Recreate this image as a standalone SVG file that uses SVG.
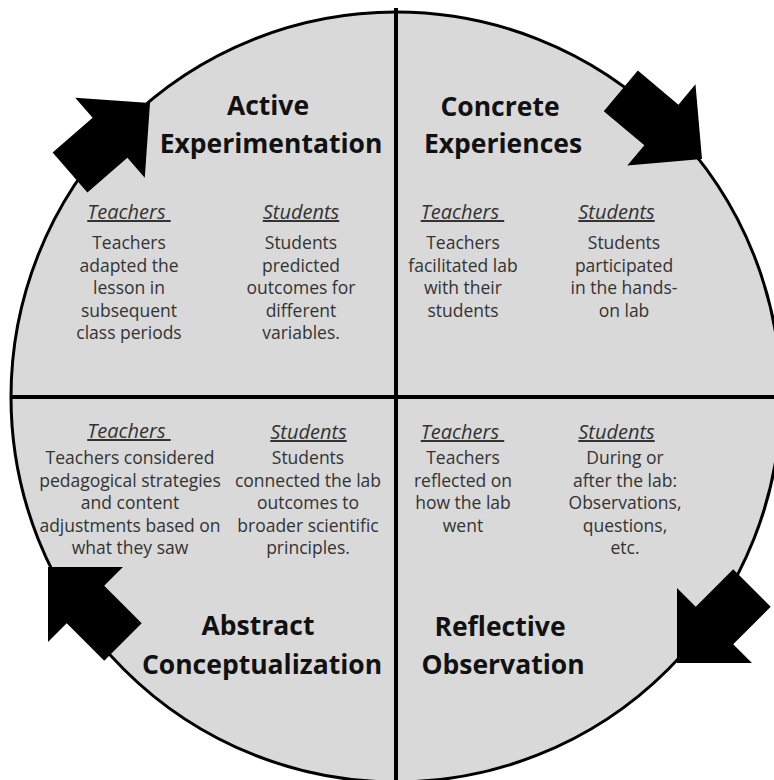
<svg xmlns="http://www.w3.org/2000/svg" width="774" height="780" viewBox="0 0 774 780">
  <style>
    .title { font-family: "Open Sans", "Liberation Sans", sans-serif; font-weight: 700; font-size: 26.5px; fill: #111; text-anchor: middle; }
    .head { font-family: "Open Sans", "Liberation Sans", sans-serif; font-style: italic; font-size: 20px; fill: #333; text-anchor: middle; text-decoration: underline; }
    .body { font-family: "Open Sans", "Liberation Sans", sans-serif; font-size: 17.5px; fill: #333; text-anchor: middle; }
    .rule { stroke: #000; stroke-width: 4; }
  </style>
  <defs>
    <!-- block arrow, tip at origin, pointing along +x -->
    <polygon id="blockArrow" points="0,0 -53,53 -53,26.5 -106,26.5 -106,-26.5 -53,-26.5 -53,-53" fill="#000"/>
  </defs>
  <rect width="774" height="780" fill="#fff"/>

  <!-- cycle disc split into four quadrants -->
  <g id="disc">
    <circle cx="396" cy="397" r="385" fill="#d9d9d9" stroke="#000" stroke-width="3"/>
    <line class="rule" x1="396" y1="8" x2="396" y2="780"/>
    <line class="rule" x1="10" y1="397" x2="774" y2="397"/>
  </g>

  <g id="active-experimentation">
    <text class="title" x="268" y="115">Active</text>
    <text class="title" x="271" y="153">Experimentation</text>
    <text class="head" x="129" y="219" xml:space="preserve">Teachers </text>
    <text class="body" x="129" y="249">Teachers</text>
    <text class="body" x="129" y="271.5">adapted the</text>
    <text class="body" x="129" y="294">lesson in</text>
    <text class="body" x="129" y="316.5">subsequent</text>
    <text class="body" x="129" y="339">class periods</text>
    <text class="head" x="301" y="219">Students</text>
    <text class="body" x="301" y="249">Students</text>
    <text class="body" x="301" y="271.5">predicted</text>
    <text class="body" x="301" y="294">outcomes for</text>
    <text class="body" x="301" y="316.5">different</text>
    <text class="body" x="301" y="339">variables.</text>
  </g>

  <g id="concrete-experiences">
    <text class="title" x="500" y="116">Concrete</text>
    <text class="title" x="503" y="153">Experiences</text>
    <text class="head" x="462.5" y="219" xml:space="preserve">Teachers </text>
    <text class="body" x="463" y="249">Teachers</text>
    <text class="body" x="463" y="271.5">facilitated lab</text>
    <text class="body" x="463" y="294">with their</text>
    <text class="body" x="463" y="316.5">students</text>
    <text class="head" x="616.5" y="219">Students</text>
    <text class="body" x="624" y="249">Students</text>
    <text class="body" x="624" y="271.5">participated</text>
    <text class="body" x="624" y="294">in the hands-</text>
    <text class="body" x="624" y="316.5">on lab</text>
  </g>

  <g id="abstract-conceptualization">
    <text class="title" x="258" y="635">Abstract</text>
    <text class="title" x="262" y="674">Conceptualization</text>
    <text class="head" x="129" y="438" xml:space="preserve">Teachers </text>
    <text class="body" x="130" y="464">Teachers considered</text>
    <text class="body" x="130" y="486.5">pedagogical strategies</text>
    <text class="body" x="130" y="509">and content</text>
    <text class="body" x="130" y="531.5">adjustments based on</text>
    <text class="body" x="130" y="554">what they saw</text>
    <text class="head" x="308.5" y="439">Students</text>
    <text class="body" x="308" y="464">Students</text>
    <text class="body" x="308" y="486.5">connected the lab</text>
    <text class="body" x="308" y="509">outcomes to</text>
    <text class="body" x="308" y="531.5">broader scientific</text>
    <text class="body" x="308" y="554">principles.</text>
  </g>

  <g id="reflective-observation">
    <text class="title" x="500" y="636">Reflective</text>
    <text class="title" x="503" y="674">Observation</text>
    <text class="head" x="462.5" y="439" xml:space="preserve">Teachers </text>
    <text class="body" x="463" y="464">Teachers</text>
    <text class="body" x="463" y="486.5">reflected on</text>
    <text class="body" x="463" y="509">how the lab</text>
    <text class="body" x="463" y="531.5">went</text>
    <text class="head" x="616.5" y="439">Students</text>
    <text class="body" x="625" y="464">During or</text>
    <text class="body" x="625" y="486.5">after the lab:</text>
    <text class="body" x="625" y="509">Observations,</text>
    <text class="body" x="625" y="531.5">questions,</text>
    <text class="body" x="625" y="554">etc.</text>
  </g>

  <!-- cycle arrows around the rim -->
  <g id="connectors">
    <use href="#blockArrow" transform="translate(150,103) rotate(-41)"/>
    <use href="#blockArrow" transform="translate(702,159) rotate(40)"/>
    <use href="#blockArrow" transform="translate(677,663) rotate(135)"/>
    <use href="#blockArrow" transform="translate(48,567) rotate(-135)"/>
  </g>
</svg>
